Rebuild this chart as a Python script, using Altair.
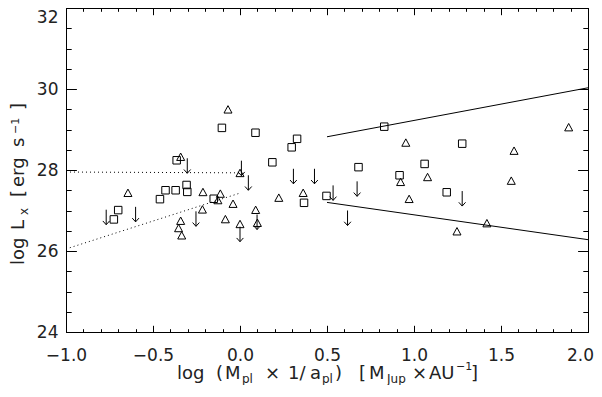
import altair as alt
import pandas as pd

# ---- data ----
tri_x = [-0.069, -0.341, 0.000, -0.644, -0.213, -0.216, -0.341, -0.353, -0.335,
         -0.113, -0.127, -0.040, -0.084, 0.000, 0.090, 0.100, 0.223, 0.363,
         0.953, 1.575, 1.889, 0.923, 1.078, 1.559, 0.972, 1.247, 1.419]
tri_y = [29.49, 28.32, 27.92, 27.43, 27.45, 27.02, 26.74, 26.56, 26.38,
         27.41, 27.25, 27.16, 26.78, 26.66, 27.01, 26.69, 27.31, 27.43,
         28.67, 28.47, 29.05, 27.70, 27.82, 27.73, 27.28, 26.48, 26.68]

sq_x = [-0.104, 0.089, -0.364, -0.428, -0.370, -0.307, -0.303, -0.460, -0.700,
        -0.725, -0.151, 0.328, 0.297, 0.186, 0.368, 0.497, 0.681, 0.829,
        1.061, 0.917, 1.188, 1.277]
sq_y = [29.04, 28.92, 28.24, 27.50, 27.50, 27.63, 27.46, 27.28, 27.01,
        26.78, 27.29, 28.77, 28.56, 28.19, 27.19, 27.36, 28.07, 29.07,
        28.15, 27.87, 27.45, 28.65]

lim_x = [-0.303, 0.008, 0.048, -0.769, -0.600, -0.253, 0.000, 0.098,
         0.307, 0.428, 0.535, 0.673, 0.618, 1.277]
lim_y = [28.29, 28.23, 27.87, 27.02, 27.09, 26.98, 26.60, 26.90,
         28.03, 28.03, 27.62, 27.72, 27.00, 27.48]

line_seg = ["d1", "d1", "d2", "d2", "s1", "s1", "s2", "s2"]
line_kind = ["dot", "dot", "dot", "dot", "solid", "solid", "solid", "solid"]
line_x = [-1.0, 0.0, -1.0, 0.0, 0.5, 2.0, 0.5, 2.0]
line_y = [27.95, 27.93, 26.05, 27.43, 28.82, 30.03, 27.20, 26.28]

x_major = [-1.0, -0.5, 0.0, 0.5, 1.0, 1.5, 2.0]
x_minor = [round(-1.0 + 0.1 * i, 1) for i in range(31)]
y_major = [24, 26, 28, 30, 32]
y_minor = [24 + 0.5 * i for i in range(17)]

tri_df = pd.DataFrame({"x": tri_x, "y": tri_y})
sq_df = pd.DataFrame({"x": sq_x, "y": sq_y})
lim_df = pd.DataFrame({"x": lim_x, "y": lim_y})
line_df = pd.DataFrame({"x": line_x, "y": line_y, "seg": line_seg, "kind": line_kind})

# ---- layout ----
W, H = 522, 324
OX, OY = 66, 8          # page position of plot origin
SVG_W, SVG_H = 586, 377
FONT = "DejaVu Sans"
TC = "#222222"

xs = alt.Scale(domain=[-1, 2], nice=False, zero=False)
ys = alt.Scale(domain=[24, 32], nice=False, zero=False)


def ax(orient, values, ticksize, offset=0, labels=False, domain=False, **extra):
    kw = dict(orient=orient, values=values, title=None, grid=False,
              labels=labels, domain=domain, domainColor="black",
              domainWidth=1, offset=offset, tickColor="black", tickWidth=1)
    if ticksize > 0:
        kw["ticks"] = True
        kw["tickSize"] = ticksize
    else:
        kw["ticks"] = False
        kw["tickSize"] = 0
    if labels:
        kw.update(labelFont=FONT, labelFontSize=17, labelColor=TC,
                  labelFlush=False, labelOverlap=False)
    kw.update(extra)
    return alt.Axis(**kw)


TRI = "M0,-1L1,0.85L-1,0.85Z"
ARROW = "M0,0L0,2M-0.45,1.5L0,2L0.45,1.5"

x_lab_axis = ax("bottom", x_major, 0, labels=True, domain=True, format=".1f",
                labelPadding=15,
                labelOffset=alt.condition("datum.value == 2", alt.value(-8), alt.value(0)))
y_lab_axis = ax("left", y_major, 0, labels=True, domain=True, format="d",
                labelPadding=8,
                labelOffset=alt.condition("datum.value == 32", alt.value(1), alt.value(0)),
                labelBaseline=alt.condition("datum.value == 32", alt.value("top"),
                                            alt.value("middle")))

tri = alt.Chart(tri_df).mark_point(
    shape=TRI, size=64, filled=False, color="black", strokeWidth=1, opacity=1
).encode(
    x=alt.X("x:Q", scale=xs, axis=x_lab_axis),
    y=alt.Y("y:Q", scale=ys, axis=y_lab_axis),
)

sq = alt.Chart(sq_df).mark_point(
    shape="square", size=56, filled=False, color="black", strokeWidth=1, opacity=1
).encode(
    x=alt.X("x:Q", scale=xs, axis=ax("top", x_major, 6.7, offset=-H)),
    y=alt.Y("y:Q", scale=ys, axis=ax("right", y_major, 10.4, offset=-W)),
)

lim = alt.Chart(lim_df).mark_point(
    shape=ARROW, size=225, filled=False, color="black", strokeWidth=1, opacity=1
).encode(
    x=alt.X("x:Q", scale=xs, axis=ax("top", x_minor, 3.3, offset=-H)),
    y=alt.Y("y:Q", scale=ys, axis=ax("right", y_minor, 5.2, offset=-W)),
)

dotted = alt.Chart(line_df).transform_filter(alt.datum.kind == "dot").mark_line(
    color="black", strokeWidth=1, strokeDash=[1, 3]
).encode(
    x=alt.X("x:Q", scale=xs, axis=ax("bottom", x_major, 6.7, offset=-H, domain=True)),
    y=alt.Y("y:Q", scale=ys, axis=ax("left", y_major, 10.4, offset=-W, domain=True)),
    detail="seg:N",
)

solid = alt.Chart(line_df).transform_filter(alt.datum.kind == "solid").mark_line(
    color="black", strokeWidth=1
).encode(
    x=alt.X("x:Q", scale=xs, axis=ax("bottom", x_minor, 3.3, offset=-H)),
    y=alt.Y("y:Q", scale=ys, axis=ax("left", y_minor, 5.2, offset=-W)),
    detail="seg:N",
)


def txt(s, px, py, size=18, angle=0, align="left"):
    return alt.Chart(alt.Data(values=[{}])).mark_text(
        text=s, font=FONT, fontSize=size, color=TC, align=align,
        baseline="alphabetic", angle=angle
    ).encode(x=alt.value(px - OX), y=alt.value(py - OY))


# x-axis title:  log (M_pl x 1/a_pl)   [M_Jup x AU^-1]
XB, XS, XP = 379, 382.5, 370
xt = [
    txt("log", 177, XB), txt("(", 216, XB), txt("M", 225, XB),
    txt("pl", 242, XS, 12), txt("\u00d7", 265, XB), txt("1/", 288, XB),
    txt("a", 310, XB), txt("pl", 322, XS, 12), txt(")", 335, XB),
    txt("[", 359, XB), txt("M", 369, XB), txt("Jup", 387, XS, 12),
    txt("\u00d7", 412, XB), txt("AU", 429, XB), txt("\u22121", 456, XP, 11),
    txt("]", 471, XB),
]

# y-axis title:  log L_x [erg s^-1]  (rotated, reading upward)
YB, YS, YP = 24, 28, 18.5
yt = [
    txt("log", YB, 265, angle=270), txt("L", YB, 230, angle=270),
    txt("x", YS, 215, 12, angle=270), txt("[", YB, 197, angle=270),
    txt("erg", YB, 187, angle=270), txt("s", YB, 147, angle=270),
    txt("\u22121", YP, 134, 11, angle=270), txt("]", YB, 110, angle=270),
]

chart = alt.layer(tri, sq, lim, dotted, solid, *xt, *yt).resolve_axis(
    x="independent", y="independent"
).properties(
    width=W, height=H,
    autosize=alt.AutoSizeParams(type="none"),
    padding={"left": OX - 8, "top": 0, "right": SVG_W - (OX - 8) - W,
             "bottom": SVG_H - H},
    background="white",
).configure_view(stroke=None)

chart.save("out.html", embed_options={"renderer": "svg", "actions": False})
